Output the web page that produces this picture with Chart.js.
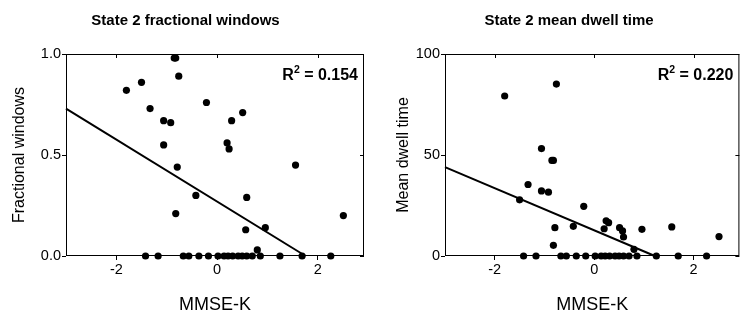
<!DOCTYPE html>
<html>
<head>
<meta charset="utf-8">
<script src="https://cdn.jsdelivr.net/npm/chart.js@4"></script>
<style>
  html, body { margin: 0; padding: 0; background: #fff; }
  #wrap { position: relative; width: 743px; height: 320px; overflow: hidden; }
  canvas { position: absolute; top: 0; }
  #left { left: 0; }
  #right { left: 372px; }
</style>
</head>
<body>
<div id="wrap">
  <canvas id="left" width="372" height="320"></canvas>
  <canvas id="right" width="371" height="320"></canvas>
</div>
<script>
// MMSE-K score per subject (shared by both panels)
const mmseK = [-1.80, -1.50, -1.33, -1.06, -1.06, -0.92, -0.85, -0.82, -0.76, -0.79, -0.82, -0.42,
  -0.21, 0.20, 0.24, 0.29, 0.51, 0.57, 0.59, 0.96, 0.80, 1.56, 2.51,
  -1.42, -1.17, -0.67, -0.56, -0.36, -0.17, 0.02, 0.14, 0.22, 0.31, 0.42, 0.50, 0.59, 0.70, 0.86, 1.25, 1.69, 2.26]
const fracWindows = [0.82, 0.86, 0.73, 0.67, 0.55, 0.66, 0.98, 0.98, 0.89, 0.44, 0.21, 0.30,
  0.76, 0.56, 0.53, 0.67, 0.71, 0.13, 0.29, 0.14, 0.03, 0.45, 0.20,
  0, 0, 0, 0, 0, 0, 0, 0, 0, 0, 0, 0, 0, 0, 0, 0, 0, 0]
const dwellTime = [79.2, 27.8, 35.4, 32.2, 53.2, 31.6, 47.3, 47.3, 85.1, 14.0, 5.3, 14.7,
  24.6, 13.5, 17.4, 16.5, 14.0, 12.4, 9.4, 13.2, 3.3, 14.4, 9.6,
  0, 0, 0, 0, 0, 0, 0, 0, 0, 0, 0, 0, 0, 0, 0, 0, 0, 0]

// regression lines
const fitFracX = [-3, 1.76]
const fitFracY = [0.73, 0]
const fitDwellX = [-3, 1.22]
const fitDwellY = [44, 0]

const r2Frac = '0.154'
const r2Dwell = '0.220'

const xTicks = [-2, 0, 2]
const fracTicks = [0, 0.5, 1.0]
const dwellTicks = [0, 50, 100]

const FONT = "'Liberation Sans', Arial, Helvetica, sans-serif"
Chart.defaults.font.family = FONT
Chart.defaults.color = '#000'

const toPoints = (xs, ys) => xs.map((x, i) => ({ x: x, y: ys[i] }))

const panelDecor = {
  id: 'panelDecor',
  beforeDatasetsDraw(chart, args, opts) {
    const { ctx, chartArea: a, scales } = chart
    ctx.save()
    ctx.strokeStyle = '#000'
    ctx.lineWidth = 1
    ctx.strokeRect(a.left + 0.5, a.top + 0.5, a.right - a.left - 1, a.bottom - a.top - 1)
    ctx.beginPath()
    scales.x.ticks.forEach(t => {
      const px = Math.round(scales.x.getPixelForValue(t.value)) + 0.5
      ctx.moveTo(px, a.top)
      ctx.lineTo(px, a.top + 4)
    })
    scales.y.ticks.forEach(t => {
      const py = Math.round(scales.y.getPixelForValue(t.value)) + 0.5
      ctx.moveTo(a.right, py)
      ctx.lineTo(a.right - 4, py)
    })
    ctx.stroke()
    ctx.restore()
  },
  afterDraw(chart, args, opts) {
    const { ctx, chartArea: a } = chart
    ctx.save()
    ctx.fillStyle = '#000'
    ctx.textBaseline = 'alphabetic'
    // panel title
    ctx.font = 'bold 15px ' + FONT
    ctx.textAlign = 'center'
    ctx.fillText(opts.title, opts.titleX, 24.5)
    // R² label
    ctx.textAlign = 'left'
    const rest = ' = ' + opts.r2
    ctx.font = 'bold 16px ' + FONT
    const wR = ctx.measureText('R').width
    const wRest = ctx.measureText(rest).width
    ctx.font = 'bold 10.5px ' + FONT
    const wSup = ctx.measureText('2').width
    const base = a.top + 26
    let x = a.right - 6 - (wR + wSup + wRest)
    ctx.font = 'bold 16px ' + FONT
    ctx.fillText('R', x, base)
    x += wR
    ctx.font = 'bold 10.5px ' + FONT
    ctx.fillText('2', x, base - 7)
    x += wSup
    ctx.font = 'bold 16px ' + FONT
    ctx.fillText(rest, x, base)
    ctx.restore()
  }
}

function makePanel(id, opts) {
  return new Chart(document.getElementById(id), {
    type: 'scatter',
    data: {
      datasets: [{
        data: toPoints(mmseK, opts.ys),
        backgroundColor: '#000',
        borderWidth: 0,
        pointRadius: 3.6,
        pointHoverRadius: 3.6,
        clip: false
      }, {
        type: 'line',
        data: toPoints(opts.fitX, opts.fitY),
        borderColor: '#000',
        borderWidth: 2,
        pointRadius: 0,
        fill: false,
        clip: false
      }]
    },
    options: {
      responsive: false,
      animation: false,
      events: [],
      layout: { padding: { top: 54, right: opts.padRight, bottom: 0, left: 0 } },
      scales: {
        x: {
          type: 'linear',
          min: -3,
          max: 2.92,
          afterBuildTicks: s => { s.ticks = xTicks.map(v => ({ value: v })) },
          afterFit: s => { s.height = 64 },
          border: { display: false },
          grid: { drawOnChartArea: false, tickLength: 4, tickColor: '#000', tickWidth: 1 },
          ticks: { font: { size: 14.5 }, color: '#000', padding: 1 },
          title: { display: true, text: 'MMSE-K', font: { size: 18 }, color: '#000', padding: { top: 0, bottom: 4 } }
        },
        y: {
          type: 'linear',
          min: 0,
          max: opts.yMax,
          afterBuildTicks: s => { s.ticks = opts.yTicks.map(v => ({ value: v })) },
          afterFit: s => { s.width = opts.yWidth },
          border: { display: false },
          grid: { drawOnChartArea: false, tickLength: 4, tickColor: '#000', tickWidth: 1 },
          ticks: { font: { size: 14.5 }, color: '#000', padding: 1, callback: opts.fmt },
          title: { display: true, text: opts.yTitle, font: { size: 16 }, color: '#000', padding: { top: opts.yTitlePad, bottom: 0 } }
        }
      },
      plugins: {
        legend: { display: false },
        tooltip: { enabled: false },
        panelDecor: { title: opts.title, titleX: opts.titleX, r2: opts.r2 }
      }
    },
    plugins: [panelDecor]
  })
}

makePanel('left', {
  ys: fracWindows, fitX: fitFracX, fitY: fitFracY,
  yMax: 1, yTicks: fracTicks, fmt: v => v.toFixed(1),
  yTitle: 'Fractional windows', yTitlePad: 10, yWidth: 66, padRight: 8,
  title: 'State 2 fractional windows', titleX: 185.5, r2: r2Frac
})

makePanel('right', {
  ys: dwellTime, fitX: fitDwellX, fitY: fitDwellY,
  yMax: 100, yTicks: dwellTicks, fmt: v => String(v),
  yTitle: 'Mean dwell time', yTitlePad: 22, yWidth: 73, padRight: 1,
  title: 'State 2 mean dwell time', titleX: 197, r2: r2Dwell
})
</script>
</body>
</html>
